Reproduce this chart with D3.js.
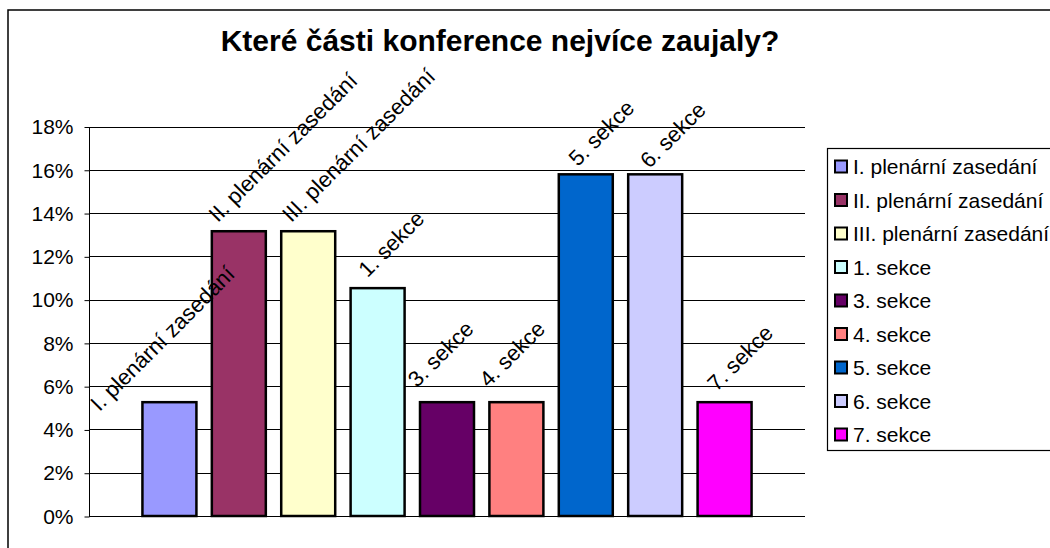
<!DOCTYPE html>
<html>
<head>
<meta charset="utf-8">
<script src="https://cdn.jsdelivr.net/npm/d3@7"></script>
<style>
  body { margin: 0; background: #fff; }
  text { font-family: "Liberation Sans", Arial, sans-serif; fill: #000; }
</style>
</head>
<body>
<svg width="1050" height="548"></svg>
<script>
const svg = d3.select("svg")
const width = +svg.attr("width")
const height = +svg.attr("height")

// co zaujalo účastníky (podíl odpovědí)
const categories = ["I. plenární zasedání", "II. plenární zasedání", "III. plenární zasedání",
  "1. sekce", "3. sekce", "4. sekce", "5. sekce", "6. sekce", "7. sekce"]
const values = [0.0526, 0.1316, 0.1316, 0.1053, 0.0526, 0.0526, 0.1579, 0.1579, 0.0526]
const colors = ["#9999FF", "#993366", "#FFFFCC", "#CCFFFF", "#660066", "#FF8080", "#0066CC", "#CCCCFF", "#FF00FF"]
const yTicks = [0, 0.02, 0.04, 0.06, 0.08, 0.10, 0.12, 0.14, 0.16, 0.18]
// popisky v originále ručně posunuté (dx, dy v px)
const labelNudge = [[-70, 10], [-21, -8], [-17, -8], [-10, -10], [-30, -14], [-28, -14], [-8, -7], [-6, -5], [-8, -10]]

const plot = {left: 89, right: 805, top: 126.5, bottom: 516}

// rámeček grafu
svg.append("rect")
  .attr("x", 8).attr("y", 10)
  .attr("width", 1200).attr("height", 700)
  .attr("fill", "none")
  .attr("stroke", "#000")
  .attr("stroke-width", 1.5)

svg.append("text")
  .attr("x", 500).attr("y", 51)
  .attr("text-anchor", "middle")
  .attr("font-size", 30)
  .attr("font-weight", "bold")
  .text("Které části konference nejvíce zaujaly?")

const x = d3.scaleBand()
  .domain(categories)
  .range([plot.left, plot.right])
  .paddingInner(0.222)
  .paddingOuter(0.77)

const y = d3.scaleLinear()
  .domain([0, 0.18])
  .range([plot.bottom, plot.top])

// mřížka
svg.append("g")
  .selectAll("line")
  .data(yTicks)
  .join("line")
  .attr("x1", plot.left).attr("x2", plot.right)
  .attr("y1", d => Math.round(y(d)) + 0.5)
  .attr("y2", d => Math.round(y(d)) + 0.5)
  .attr("stroke", "#000")
  .attr("stroke-width", 1)

const yAxis = svg.append("g")
  .attr("transform", `translate(${plot.left + 0.5},0.5)`)
  .call(d3.axisLeft(y).tickValues(yTicks).tickFormat(d3.format(".0%")).tickSize(5).tickPadding(11))
yAxis.select(".domain").attr("stroke", "#000").attr("d", `M0,${Math.round(plot.top)}V${Math.round(plot.bottom)}`)
yAxis.selectAll(".tick line").attr("stroke", "#000")
yAxis.selectAll(".tick text")
  .attr("font-size", 21)
  .attr("font-family", "Liberation Sans, Arial, sans-serif")
  .attr("fill", "#000")

svg.append("g")
  .selectAll("rect")
  .data(values)
  .join("rect")
  .attr("x", (d, i) => x(categories[i]))
  .attr("y", d => y(d))
  .attr("width", x.bandwidth())
  .attr("height", d => plot.bottom - y(d))
  .attr("fill", (d, i) => colors[i])
  .attr("stroke", "#000")
  .attr("stroke-width", 2.5)

svg.append("g")
  .selectAll("text")
  .data(values)
  .join("text")
  .attr("transform", (d, i) => {
    const cx = x(categories[i]) + x.bandwidth() / 2 + labelNudge[i][0]
    const cy = y(d) + labelNudge[i][1]
    return `translate(${cx},${cy}) rotate(-45)`
  })
  .attr("font-size", 22)
  .text((d, i) => categories[i])

// legenda
const legend = svg.append("g")
svg.append("rect")
  .attr("x", 827.5).attr("y", 148.5)
  .attr("width", 400).attr("height", 302)
  .attr("fill", "none")
  .attr("stroke", "#000")
  .attr("stroke-width", 1.2)

const rows = legend.selectAll("g")
  .data(categories)
  .join("g")
  .attr("transform", (d, i) => `translate(834,${166.5 + i * 33.5})`)
rows.append("rect")
  .attr("x", 1).attr("y", -6)
  .attr("width", 12).attr("height", 12)
  .attr("fill", (d, i) => colors[i])
  .attr("stroke", "#000")
  .attr("stroke-width", 2)
rows.append("text")
  .attr("x", 19).attr("y", 7.5)
  .attr("font-size", 21)
  .text(d => d)
</script>
</body>
</html>
